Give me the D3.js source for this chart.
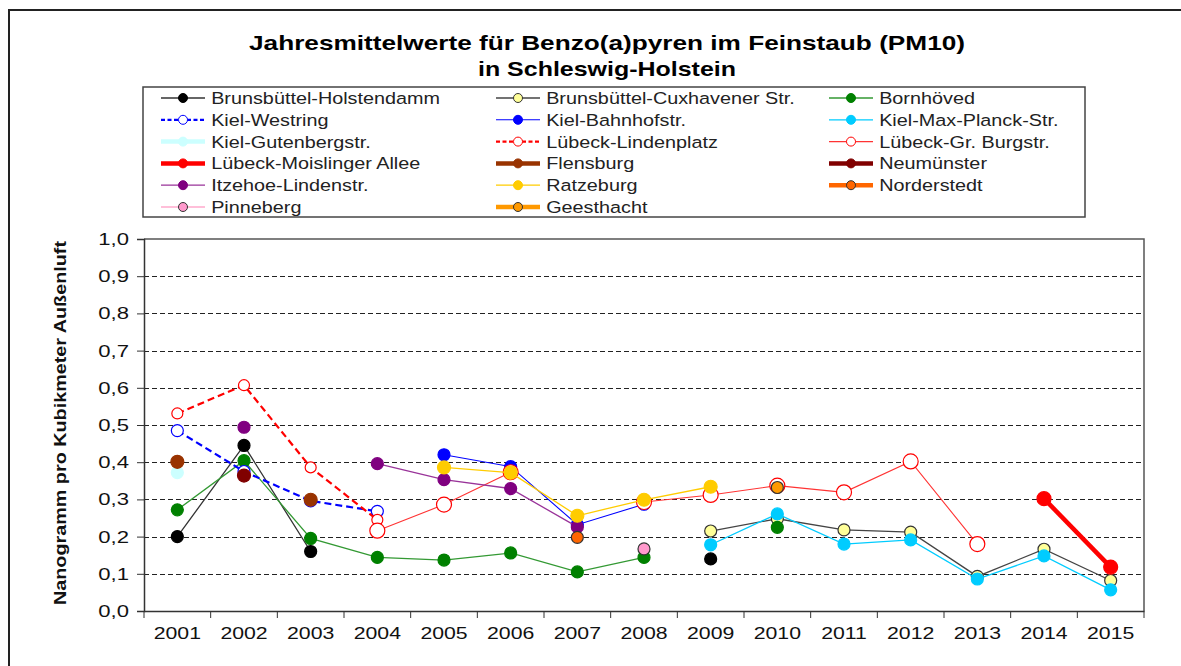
<!DOCTYPE html>
<html>
<head>
<meta charset="utf-8">
<script src="https://cdn.jsdelivr.net/npm/d3@7"></script>
<style>
  body { margin: 0; background: #fff; }
  svg { font-family: Arial, "Liberation Sans", sans-serif; }
</style>
</head>
<body>
<div id="chart"></div>
<script>
const years = ['2001', '2002', '2003', '2004', '2005', '2006', '2007', '2008',
    '2009', '2010', '2011', '2012', '2013', '2014', '2015'];

const yTicks = [0, 0.1, 0.2, 0.3, 0.4, 0.5, 0.6, 0.7, 0.8, 0.9, 1.0];

// one array per station, null = no measurement
const holstendamm   = [0.20, 0.445, 0.16, null, null, null, null, null, 0.14, null, null, null, null, null, null];
const cuxhavener    = [null, null, null, null, null, null, null, null, 0.215, 0.248, 0.218, 0.212, 0.093, 0.166, 0.082];
const bornhoeved    = [0.272, 0.404, 0.195, 0.144, 0.137, 0.156, 0.105, 0.144, null, 0.225, null, null, null, null, null];
const westring      = [0.485, 0.375, 0.296, 0.268, null, null, null, null, null, null, null, null, null, null, null];
const bahnhofstr    = [null, null, null, null, 0.42, 0.388, 0.232, 0.287, null, null, null, null, null, null, null];
const maxPlanck     = [null, null, null, null, null, null, null, null, 0.178, 0.261, 0.18, 0.191, 0.086, 0.148, 0.057];
const gutenberg     = [0.372, null, null, null, null, null, null, null, null, null, null, null, null, null, null];
const lindenplatz   = [0.531, 0.607, 0.386, 0.245, null, null, null, null, null, null, null, null, null, null, null];
const grBurgstr     = [null, null, null, 0.216, 0.286, 0.373, null, 0.293, 0.312, 0.337, 0.319, 0.402, 0.18, null, null];
const moislinger    = [null, null, null, null, null, null, null, null, null, null, null, null, null, 0.302, 0.118];
const flensburg     = [0.401, null, 0.299, null, null, null, null, null, null, null, null, null, null, null, null];
const neumuenster   = [null, 0.364, null, null, null, null, null, null, null, null, null, null, null, null, null];
const itzehoe       = [null, 0.494, null, 0.396, 0.353, 0.329, 0.226, null, null, null, null, null, null, null, null];
const ratzeburg     = [null, null, null, null, 0.386, 0.372, 0.256, 0.299, 0.334, null, null, null, null, null, null];
const norderstedt   = [null, null, null, null, null, null, 0.198, null, null, null, null, null, null, null, null];
const pinneberg     = [null, null, null, null, null, null, null, 0.167, null, null, null, null, null, null, null];
const geesthacht    = [null, null, null, null, null, null, null, null, null, 0.332, null, null, null, null, null];

const series = [
    { name: 'Brunsbüttel-Holstendamm', values: holstendamm, line: '#333', lw: 1.3, fill: '#000', stroke: '#000', r: 6 },
    { name: 'Brunsbüttel-Cuxhavener Str.', values: cuxhavener, line: '#444', lw: 1.3, fill: '#ffff99', stroke: '#333', r: 6 },
    { name: 'Bornhöved', values: bornhoeved, line: '#339933', lw: 1.3, fill: '#008000', stroke: '#008000', r: 6 },
    { name: 'Kiel-Westring', values: westring, line: '#0000ff', lw: 2.2, dash: '7,4', fill: '#fff', stroke: '#0000ff', r: 6 },
    { name: 'Kiel-Bahnhofstr.', values: bahnhofstr, line: '#0000ff', lw: 1.1, fill: '#0000ff', stroke: '#0000ff', r: 6 },
    { name: 'Kiel-Max-Planck-Str.', values: maxPlanck, line: '#00ccff', lw: 1.3, fill: '#00ccff', stroke: '#00ccff', r: 6 },
    { name: 'Kiel-Gutenbergstr.', values: gutenberg, line: '#ccffff', lw: 4.5, fill: '#ccffff', stroke: '#ccffff', r: 6 },
    { name: 'Lübeck-Lindenplatz', values: lindenplatz, line: '#ff0000', lw: 2.2, dash: '7,4', fill: '#fff', stroke: '#ff0000', r: 5.5 },
    { name: 'Lübeck-Gr. Burgstr.', values: grBurgstr, line: '#ff3333', lw: 1.1, fill: '#fff', stroke: '#ff0000', r: 7.5 },
    { name: 'Lübeck-Moislinger Allee', values: moislinger, line: '#ff0000', lw: 4.5, fill: '#ff0000', stroke: '#ff0000', r: 7 },
    { name: 'Flensburg', values: flensburg, line: '#993300', lw: 4.5, fill: '#993300', stroke: '#993300', r: 6.5 },
    { name: 'Neumünster', values: neumuenster, line: '#800000', lw: 4.5, fill: '#800000', stroke: '#800000', r: 6.5 },
    { name: 'Itzehoe-Lindenstr.', values: itzehoe, line: '#993399', lw: 1.3, fill: '#800080', stroke: '#800080', r: 6 },
    { name: 'Ratzeburg', values: ratzeburg, line: '#ffcc00', lw: 1.3, fill: '#ffcc00', stroke: '#ffcc00', r: 6.5 },
    { name: 'Norderstedt', values: norderstedt, line: '#ff6600', lw: 4.5, fill: '#ff6600', stroke: '#333', r: 6 },
    { name: 'Pinneberg', values: pinneberg, line: '#ffaacc', lw: 1.5, fill: '#ff99cc', stroke: '#333', r: 6 },
    { name: 'Geesthacht', values: geesthacht, line: '#ff9900', lw: 4.5, fill: '#ff9900', stroke: '#333', r: 6 }
];

const WIDTH = 1181;
const HEIGHT = 666;
const PLOT = { left: 144, right: 1144, top: 239, bottom: 611 };
// the source picture is stretched sideways, so text gets widened too
const SX = 1.25;

const svg = d3.select('#chart')
    .append('svg')
    .attr('width', WIDTH)
    .attr('height', HEIGHT);

// outer frame
svg.append('path')
    .attr('d', `M9,${HEIGHT} V10 H${WIDTH}`)
    .attr('fill', 'none')
    .attr('stroke', '#222')
    .attr('stroke-width', 2);

// Title
svg.append('text')
    .attr('x', 607).attr('y', 50)
    .attr('text-anchor', 'middle')
    .attr('font-size', 21).attr('font-weight', 'bold')
    .attr('textLength', 716).attr('lengthAdjust', 'spacingAndGlyphs')
    .text('Jahresmittelwerte für Benzo(a)pyren im Feinstaub (PM10)');
svg.append('text')
    .attr('x', 607).attr('y', 76)
    .attr('text-anchor', 'middle')
    .attr('font-size', 21).attr('font-weight', 'bold')
    .attr('textLength', 258).attr('lengthAdjust', 'spacingAndGlyphs')
    .text('in Schleswig-Holstein');

// Scales
const xScale = d3.scaleBand()
    .domain(years)
    .range([PLOT.left, PLOT.right]);

const yScale = d3.scaleLinear()
    .domain([0, 1])
    .range([PLOT.bottom, PLOT.top]);

const xc = i => xScale(years[i]) + xScale.bandwidth() / 2;

// plot frame (top + right)
svg.append('path')
    .attr('d', `M${PLOT.left},${PLOT.top} H${PLOT.right} V${PLOT.bottom}`)
    .attr('fill', 'none')
    .attr('stroke', '#555')
    .attr('stroke-width', 1.5);

// Grid lines
svg.append('g')
    .selectAll('line')
    .data(yTicks.filter(t => t > 0 && t < 1))
    .enter()
    .append('line')
    .attr('x1', PLOT.left)
    .attr('x2', PLOT.right)
    .attr('y1', d => Math.round(yScale(d)) + 0.5)
    .attr('y2', d => Math.round(yScale(d)) + 0.5)
    .attr('stroke', '#222')
    .attr('stroke-width', 1.2)
    .attr('stroke-dasharray', '5,3');

// Y axis
const yAxis = svg.append('g')
    .attr('transform', `translate(${PLOT.left},0)`)
    .call(d3.axisLeft(yScale)
        .tickValues(yTicks)
        .tickSize(7)
        .tickPadding(9)
        .tickFormat(d => d3.format('.1f')(d).replace('.', ',')));
yAxis.select('.domain').attr('stroke', '#333').attr('stroke-width', 1.5);
yAxis.selectAll('.tick line').attr('stroke', '#333');
yAxis.selectAll('text')
    .attr('font-size', 17)
    .attr('fill', '#111')
    .attr('x', -15 / 1.3)
    .attr('transform', 'scale(1.3,1)')
    .attr('font-family', 'Arial, "Liberation Sans", sans-serif');

// X axis
const xAxis = svg.append('g')
    .attr('transform', `translate(0,${PLOT.bottom})`)
    .call(d3.axisBottom(xScale).tickSize(0).tickPadding(16));
xAxis.select('.domain').attr('stroke', '#333').attr('stroke-width', 1.5);
xAxis.selectAll('text')
    .attr('font-size', 17)
    .attr('fill', '#111')
    .attr('transform', `scale(${SX},1)`)
    .attr('font-family', 'Arial, "Liberation Sans", sans-serif');
// ticks between categories
xAxis.selectAll('line.sep')
    .data(d3.range(years.length + 1))
    .enter()
    .append('line')
    .attr('class', 'sep')
    .attr('x1', i => PLOT.left + i * xScale.step())
    .attr('x2', i => PLOT.left + i * xScale.step())
    .attr('y1', 0)
    .attr('y2', 7)
    .attr('stroke', '#333');

// Y axis title
svg.append('text')
    .attr('transform', 'translate(66,423) rotate(-90)')
    .attr('text-anchor', 'middle')
    .attr('font-size', 17)
    .attr('font-weight', 'bold')
    .attr('fill', '#111')
    .attr('textLength', 364).attr('lengthAdjust', 'spacingAndGlyphs')
    .text('Nanogramm pro Kubikmeter Außenluft');

// Lines and markers
const line = d3.line()
    .defined(d => d.v != null)
    .x(d => xc(d.i))
    .y(d => yScale(d.v));

series.forEach(s => {
    const pts = s.values.map((v, i) => ({ v, i }));
    const g = svg.append('g');
    g.append('path')
        .datum(pts)
        .attr('d', line)
        .attr('fill', 'none')
        .attr('stroke', s.line)
        .attr('stroke-width', s.lw)
        .attr('stroke-dasharray', s.dash || null);
    g.selectAll('circle')
        .data(pts.filter(d => d.v != null))
        .enter()
        .append('circle')
        .attr('cx', d => xc(d.i))
        .attr('cy', d => yScale(d.v))
        .attr('r', s.r)
        .attr('fill', s.fill)
        .attr('stroke', s.stroke)
        .attr('stroke-width', 1.2);
});

// Legend
const LEG = { x: 143, y: 87, w: 942, h: 130 };
svg.append('rect')
    .attr('x', LEG.x).attr('y', LEG.y)
    .attr('width', LEG.w).attr('height', LEG.h)
    .attr('fill', '#fff')
    .attr('stroke', '#444')
    .attr('stroke-width', 1.5);

const colX = [161, 496, 829];
const legend = svg.append('g')
    .selectAll('g')
    .data(series)
    .enter()
    .append('g')
    .attr('transform', (d, i) => `translate(${colX[i % 3]},${98 + Math.floor(i / 3) * 21.8})`);

legend.append('line')
    .attr('x1', 0).attr('x2', 44)
    .attr('stroke', d => d.line)
    .attr('stroke-width', d => d.lw)
    .attr('stroke-dasharray', d => d.dash ? '4,2.5' : null);
legend.append('circle')
    .attr('cx', 22)
    .attr('r', 4.5)
    .attr('fill', d => d.fill)
    .attr('stroke', d => d.stroke)
    .attr('stroke-width', 1);
legend.append('text')
    .attr('x', 51 / 1.22)
    .attr('y', 6)
    .attr('font-size', 16.5)
    .attr('fill', '#222')
    .attr('transform', 'scale(1.2,1)')
    .text(d => d.name);
</script>
</body>
</html>
